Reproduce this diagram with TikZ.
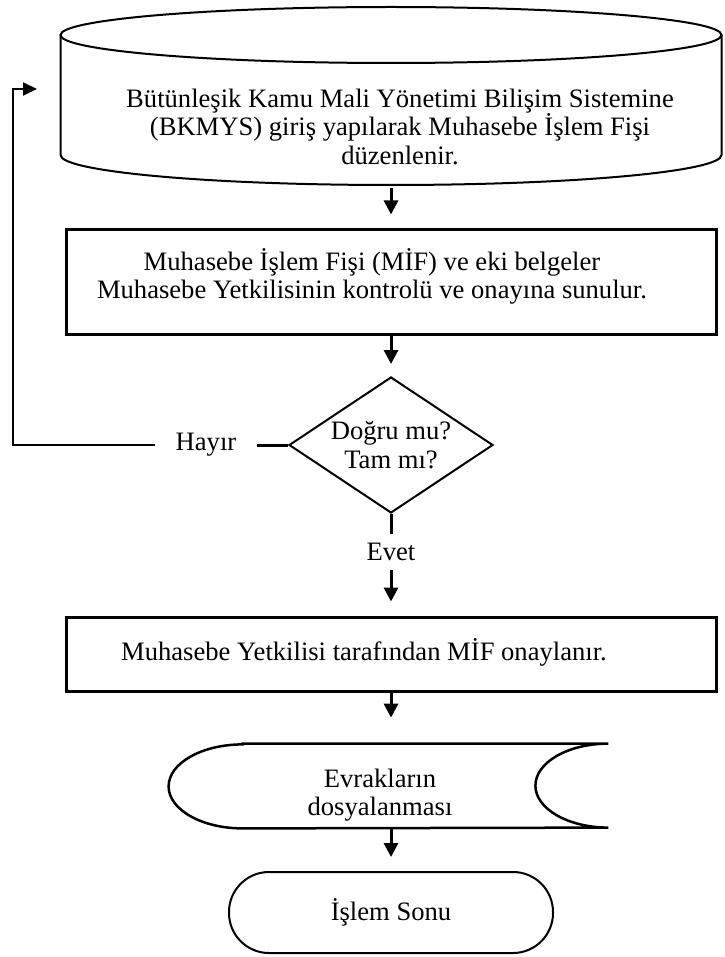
\documentclass[tikz,border=0pt]{standalone}
\usepackage{fontspec}
\setmainfont{Liberation Serif}
\usetikzlibrary{arrows.meta,calc,shapes.geometric}

\begin{document}
\begin{tikzpicture}[
  x=0.5pt, y=-0.5pt,
  every node/.style={font=\fontsize{13.3}{14.25}\selectfont},
  flow/.style={-{Triangle[length=7pt, width=7pt]}, line width=1.5pt},
  link/.style={line width=1pt},
  box/.style={draw, line width=1.5pt, minimum width=325pt},
  txt/.style={align=center, inner sep=0pt},
  outline/.style={line width=1pt}
]
\def\mx{391}
\def\rx{330.5}
\useasboundingbox (0,0) rectangle (724,957);
% database
\draw[outline] (\mx,35) ellipse [x radius=\rx, y radius=28];
\draw[outline] ({\mx-\rx},35) -- ({\mx-\rx},155)
  arc[start angle=180, end angle=0, x radius=\rx, y radius=30] -- ({\mx+\rx},35);
\coordinate (vtalt) at (\mx,185);
\node[txt] (bkmys) at (400,126.5) {Bütünleşik Kamu Mali Yönetimi Bilişim Sistemine\\(BKMYS) giriş yapılarak Muhasebe İşlem Fişi\\düzenlenir.};

% boxes
\node[box, minimum height=52.5pt] (mif) at (\mx,281.5) {};
\node[txt] (mifyazi) at ($(mif)+(-19,-5)$) {Muhasebe İşlem Fişi (MİF) ve eki belgeler\\Muhasebe Yetkilisinin kontrolü ve onayına sunulur.};
\node[box, minimum height=37pt] (onay) at (\mx,654) {};
\node[txt] (onayyazi) at ($(onay)+(-27,-2)$) {Muhasebe Yetkilisi tarafından MİF onaylanır.};

% decision
\node[diamond, draw, line width=1pt, aspect=1.5, inner sep=0pt, minimum width=102pt,
  minimum height=68pt, align=center] (kontrol) at (\mx,445) {Doğru mu?\\Tam mı?};
\node[inner xsep=10pt] (hayir) at (206,445) {Hayır};
\node[inner ysep=4.5pt] (evet) at (\mx,552) {Evet};

% filing
\node[minimum width=219.5pt, minimum height=42pt, inner sep=0pt] (evrak) at (388.5,786) {};
\draw[line width=1.25pt] ($(evrak.north west)+(74,0)$) -- (evrak.north east)
  arc[start angle=270, end angle=90, x radius=73, y radius=42]
  -- ($(evrak.south west)+(74,0)$)
  arc[start angle=90, end angle=270, x radius=74, y radius=42] -- cycle;
\node[txt] (evrakyazi) at (380,795) {Evrakların\\dosyalanması};

% end
\node[draw, line width=1pt, rounded corners=20pt, minimum width=162pt,
  minimum height=40.5pt] (son) at (\mx,912.5) {İşlem Sonu};

% arrows
\draw[flow, shorten <=1.5pt, shorten >=6.5pt] (vtalt) -- (mif.north);
\draw[flow, shorten >=6pt] (mif.south) -- (kontrol.north);
\draw[line width=1.5pt] (kontrol.west) -- (hayir.east);
\coordinate (geri) at (13,89);
\coordinate (gerison) at (37,89);
\draw[link, -{Triangle[length=7pt, width=6.5pt]}] (hayir.west) -| (geri) -- (gerison);
\draw[line width=1.5pt] (kontrol.south) -- (evet.north);
\draw[flow, shorten >=7pt] (evet.south) -- (onay.north);
\draw[flow, shorten >=13pt] (onay.south) -- (onay.south |- evrak.north);
\draw[flow, shorten >=7pt] (son.north |- evrak.south) -- (son.north);
\end{tikzpicture}
\end{document}
